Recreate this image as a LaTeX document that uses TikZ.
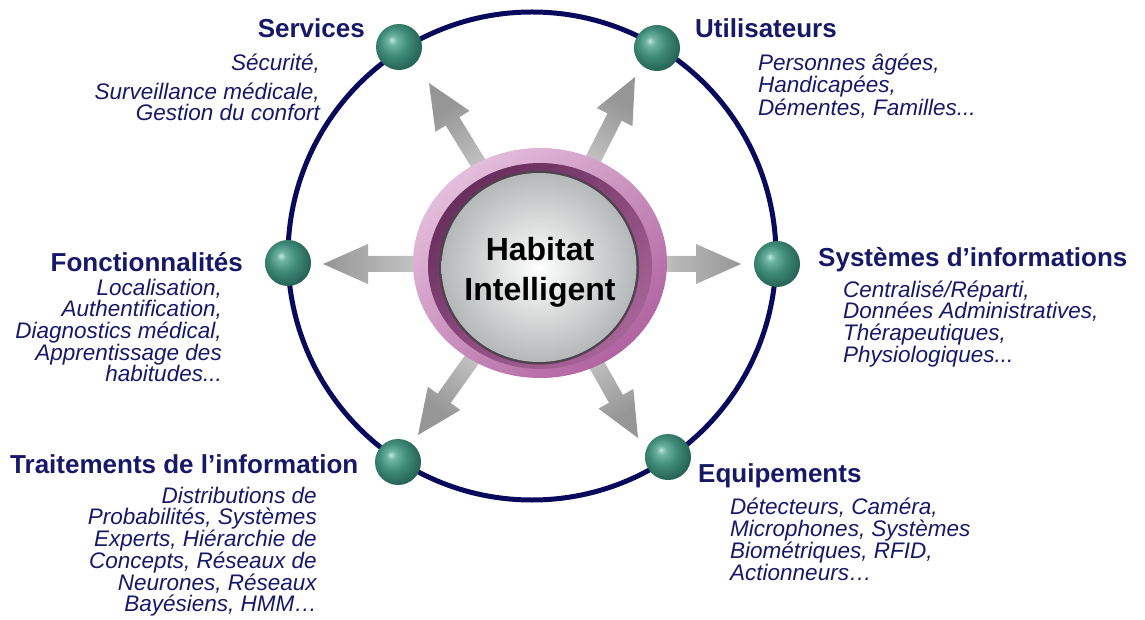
\documentclass[tikz,border=0pt]{standalone}
\usepackage{fontspec}
\setmainfont{Liberation Sans}
\usetikzlibrary{calc}
\definecolor{txtnavy}{RGB}{24,24,104}
\definecolor{ringnavy}{RGB}{10,10,92}
\definecolor{ballhi}{RGB}{190,232,222}
\definecolor{balllt}{RGB}{110,180,162}
\definecolor{ballmid}{RGB}{64,140,120}
\definecolor{balldk}{RGB}{38,100,86}
\definecolor{arrdark}{RGB}{150,150,150}
\definecolor{ringlight}{RGB}{228,190,220}
\definecolor{ringmid}{RGB}{176,100,160}
\definecolor{banddark}{RGB}{104,46,92}
\definecolor{bandlight}{RGB}{168,100,152}
\definecolor{discgray}{RGB}{180,184,184}
\definecolor{discrim}{RGB}{80,66,78}
\pgfdeclareradialshading{tealball}{\pgfpoint{-8bp}{8bp}}{%
  color(0bp)=(ballhi); color(5bp)=(balllt); color(15bp)=(ballmid);
  color(28bp)=(balldk); color(34bp)=(balldk); color(50bp)=(balldk)}
\newcommand\bodyfont{\fontsize{22.5}{21.7}\selectfont\itshape\lineskiplimit=-50pt\relax}
\newcommand\firststrut{\rule{0pt}{20pt}}
\newcommand\grayarrow[3]{%
  \coordinate (abase) at ($(#2)!45pt!(#1)$);
  \shade[garrow, shading angle=#3]
    ($(#1)!8pt!90:(#2)$) -- ($(abase)!8pt!90:(#2)$) -- ($(abase)!20pt!90:(#2)$) --
    (#2) -- ($(abase)!20pt!-90:(#2)$) -- ($(abase)!8pt!-90:(#2)$) --
    ($(#1)!8pt!-90:(#2)$) -- cycle;}
\tikzset{
  ballnode/.style={circle, minimum size=46pt, inner sep=0pt, shading=tealball},
  hdr/.style={font=\fontsize{26}{28}\selectfont\bfseries, text=txtnavy, inner sep=0pt},
  bodyr/.style={font=\bodyfont, text=txtnavy, inner sep=0pt, align=right},
  bodyl/.style={font=\bodyfont, text=txtnavy, inner sep=0pt, align=left},
  garrow/.style={top color=arrdark, bottom color=white, draw=none}
}
\begin{document}
\begin{tikzpicture}[x=1pt,y=1pt]
\useasboundingbox (0,0) rectangle (1145,619);
\fill[white] (0,0) rectangle (1145,619);
% big circle
\draw[ringnavy, line width=5pt] (532,363) circle[radius=244];
% arrows
\coordinate (hc) at (540,355);
\coordinate (tL) at (323,355);
\coordinate (tR) at (741,355);
\coordinate (tUL) at (429,536);
\coordinate (tUR) at (635,542);
\coordinate (tDL) at (418,184);
\coordinate (tDR) at (638,181);
\grayarrow{hc}{tL}{90}
\grayarrow{hc}{tR}{-90}
\grayarrow{hc}{tUL}{31.5}
\grayarrow{hc}{tUR}{-26.9}
\grayarrow{hc}{tDL}{144.5}
\grayarrow{hc}{tDR}{-150.6}
% hub
\shade[top color=ringlight, bottom color=ringmid, shading angle=40] (540,356) ellipse[x radius=127, y radius=115];
\shade[top color=banddark, bottom color=bandlight, shading angle=40] (540,353) ellipse[x radius=112, y radius=103];
\fill[discrim] (539,351.5) ellipse[x radius=100, y radius=97];
\shade[inner color=white, outer color=discgray] (539,351.5) ellipse[x radius=97.5, y radius=94.5];
\node[font=\fontsize{32}{40}\selectfont\bfseries, align=center, anchor=north, inner sep=0pt] (hubtext) at (540,385) {\rule{0pt}{26pt}Habitat\\Intelligent};
% balls
\node[ballnode] (bS) at (399,572) {};
\node[ballnode] (bU) at (657,571) {};
\node[ballnode] (bF) at (288,356) {};
\node[ballnode] (bI) at (777,355) {};
\node[ballnode] (bT) at (398,157) {};
\node[ballnode] (bE) at (668,162) {};
% texts
\node[hdr, anchor=base east] (hS) at (365,581) {Services};
\node[bodyr, anchor=north east] (tS) at (320,569) {\firststrut Sécurité,\\[8pt] Surveillance médicale,\\[-1pt] Gestion du confort};
\node[hdr, anchor=base west] (hU) at (695,581) {Utilisateurs};
\node[bodyl, anchor=north west] (tU) at (758,569) {\firststrut Personnes âgées,\\[1pt] Handicapées,\\[0.5pt] Démentes, Familles...};
\node[hdr, anchor=base east] (hF) at (243,347) {Fonctionnalités};
\node[bodyr, anchor=north east] (tF) at (222,344) {\firststrut Localisation,\\ Authentification,\\ Diagnostics médical,\\ Apprentissage des\\ habitudes...};
\node[hdr, anchor=base west] (hI) at (818,352) {Systèmes d’informations};
\node[bodyl, anchor=north west] (tI) at (843,342) {\firststrut Centralisé/Réparti,\\ Données Administratives,\\ Thérapeutiques,\\ Physiologiques...};
\node[hdr, anchor=base west] (hT) at (10,146) {Traitements de l’information};
\node[bodyr, anchor=north east] (tT) at (317,136) {\firststrut Distributions de\\ Probabilités, Systèmes\\ Experts, Hiérarchie de\\ Concepts, Réseaux de\\ Neurones, Réseaux\\ Bayésiens, HMM…};
\node[hdr, anchor=base west] (hE) at (698,137) {Equipements};
\node[bodyl, anchor=north west] (tE) at (730,125) {\firststrut Détecteurs, Caméra,\\[0.3pt] Microphones, Systèmes\\[0.3pt] Biométriques, RFID,\\[0.3pt] Actionneurs…};
\end{tikzpicture}
\end{document}
